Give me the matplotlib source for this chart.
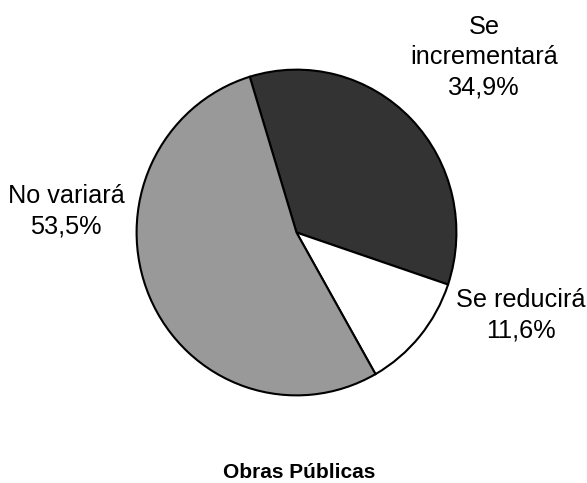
import matplotlib.pyplot as plt

# Data
labels = ['Se\nincrementará', 'Se reducirá', 'No variará']
values = [34.9, 11.6, 53.5]
colors = ['#333333', '#ffffff', '#999999']
title = 'Obras Públicas'

plt.rcParams['font.family'] = ['Liberation Sans', 'DejaVu Sans']

W, H = 587, 483
fig = plt.figure(figsize=(W / 100, H / 100), dpi=100)

# pie centred at (296, 232) px; slightly taller than wide, like the original
cx, cy, rx, ry = 296.5, 232.5, 161.5, 164.5
ax = fig.add_axes([(cx - rx) / W, (H - cy - ry) / H, 2 * rx / W, 2 * ry / H])
ax.pie(values, colors=colors, startangle=107, counterclock=False,
       wedgeprops=dict(edgecolor='black', linewidth=1.5))
ax.set_xlim(-1.01, 1.01)
ax.set_ylim(-1.01, 1.01)
ax.set_aspect('auto')
ax.axis('off')

# label positions in pixels (from top-left)
label_pos = [(484, 57), (521, 315), (66, 211.5)]
for lab, val, (x, y) in zip(labels, values, label_pos):
    txt = f"{lab}\n{val:.1f}%".replace('.', ',')
    fig.text(x / W, 1 - y / H, txt, ha='center', va='center',
             fontsize=18.2, linespacing=1.33)

fig.text(299 / W, 1 - 473 / H, title, ha='center', va='center',
         fontsize=15, fontweight='bold')

fig.savefig('out.png', dpi=100)
